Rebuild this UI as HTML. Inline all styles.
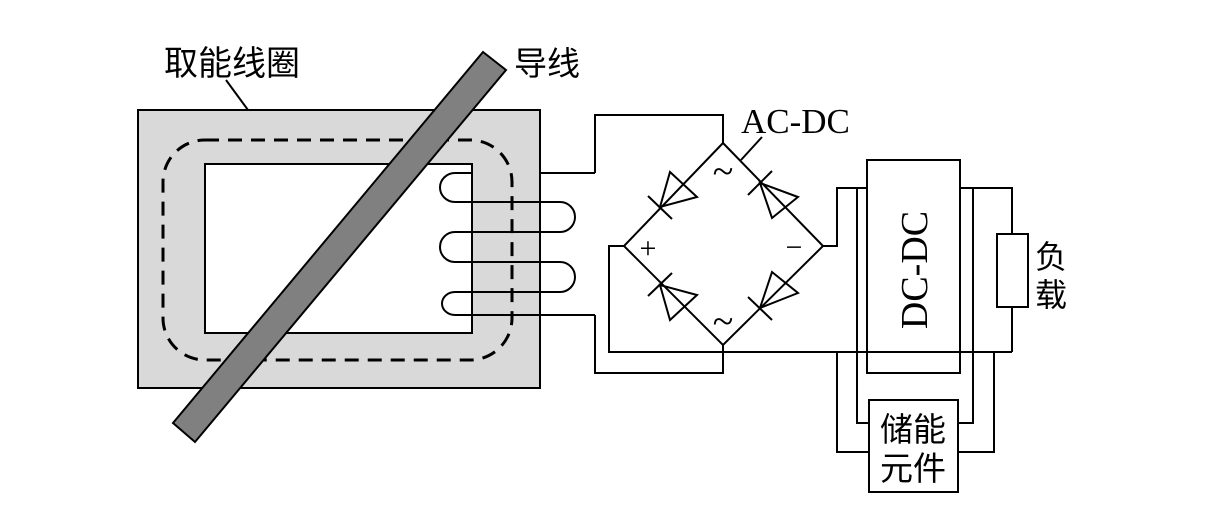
<!DOCTYPE html>
<html><head><meta charset="utf-8"><style>
html,body{margin:0;padding:0;background:#fff;}
svg{display:block;}
.t{font-family:"Liberation Sans","Noto Sans CJK SC",sans-serif;fill:#000;}
.s{font-family:"Liberation Serif","Noto Serif CJK SC",serif;fill:#000;}
</style></head><body>
<svg width="1227" height="510" viewBox="0 0 1227 510" xmlns="http://www.w3.org/2000/svg">
<g fill="none" stroke="#000" stroke-width="2">
<path d="M138 110 H540 V388 H138 Z M205 164 V333 H472 V164 Z" fill="#d9d9d9" fill-rule="evenodd"/>
<rect x="163" y="140" width="349" height="220" rx="42" stroke-width="3" stroke-dasharray="14,9"/>
<polygon points="483,52 506,70 195,442 173,423" fill="#808080"/>
<line x1="226" y1="80" x2="248" y2="110"/>
<path d="M472 173 H455 A15 14.5 0 0 0 455 202 H560 A15 15 0 0 1 560 232 H455 A15 15 0 0 0 455 262 H560 A15 15 0 0 1 560 292 H455 A13 11.5 0 0 0 455 315 H595"/>
<line x1="540" y1="173" x2="595" y2="173"/>
<path d="M595 173 V115 H723 V143"/>
<path d="M595 315 V373 H723 V345"/>
<polygon points="723,143 624,246 723,345 823,246"/>
<path d="M624 246 H609 V352 H1012"/>
<path d="M823 246 H837 V188 H867"/>
<line x1="741" y1="160" x2="762" y2="137"/>
<polygon points="660,207 670,172 697,197"/>
<line x1="648" y1="196" x2="672" y2="219"/>
<polygon points="660,285 670,320 697,295"/>
<line x1="648" y1="296" x2="672" y2="273"/>
<polygon points="760,183 772,218 798,197"/>
<line x1="748" y1="195" x2="772" y2="171"/>
<polygon points="760,308 772,272 798,293"/>
<line x1="748" y1="297" x2="772" y2="320"/>
<rect x="867" y="160" width="93" height="213"/>
<path d="M960 188 H1012 V234"/>
<rect x="997" y="234" width="31" height="73"/>
<path d="M1012 307 V352"/>
<rect x="869" y="400" width="89" height="92"/>
<path d="M857 188 V423 H869"/>
<path d="M837 352 V452 H869"/>
<path d="M973 188 V423 H958"/>
<path d="M994 352 V452 H958"/>
</g>
<text class="t" x="164" y="75" font-size="34">取能线圈</text>
<text class="t" x="514" y="75" font-size="33">导线</text>
<text class="s" x="741" y="133" font-size="35">AC-DC</text>
<text class="s" x="723" y="184" font-size="38" text-anchor="middle">~</text>
<text class="s" x="723" y="334" font-size="38" text-anchor="middle">~</text>
<text class="s" x="648" y="258" font-size="30" text-anchor="middle">+</text>
<text class="s" x="794" y="257" font-size="30" text-anchor="middle">−</text>
<text class="s" x="0" y="0" font-size="38" text-anchor="middle" transform="translate(927,270) rotate(-90)">DC-DC</text>
<text class="t" x="1035" y="268" font-size="32">负</text>
<text class="t" x="1035" y="306" font-size="32">载</text>
<text class="t" x="913" y="441" font-size="33" text-anchor="middle">储能</text>
<text class="t" x="913" y="480" font-size="33" text-anchor="middle">元件</text>
</svg>
</body></html>
